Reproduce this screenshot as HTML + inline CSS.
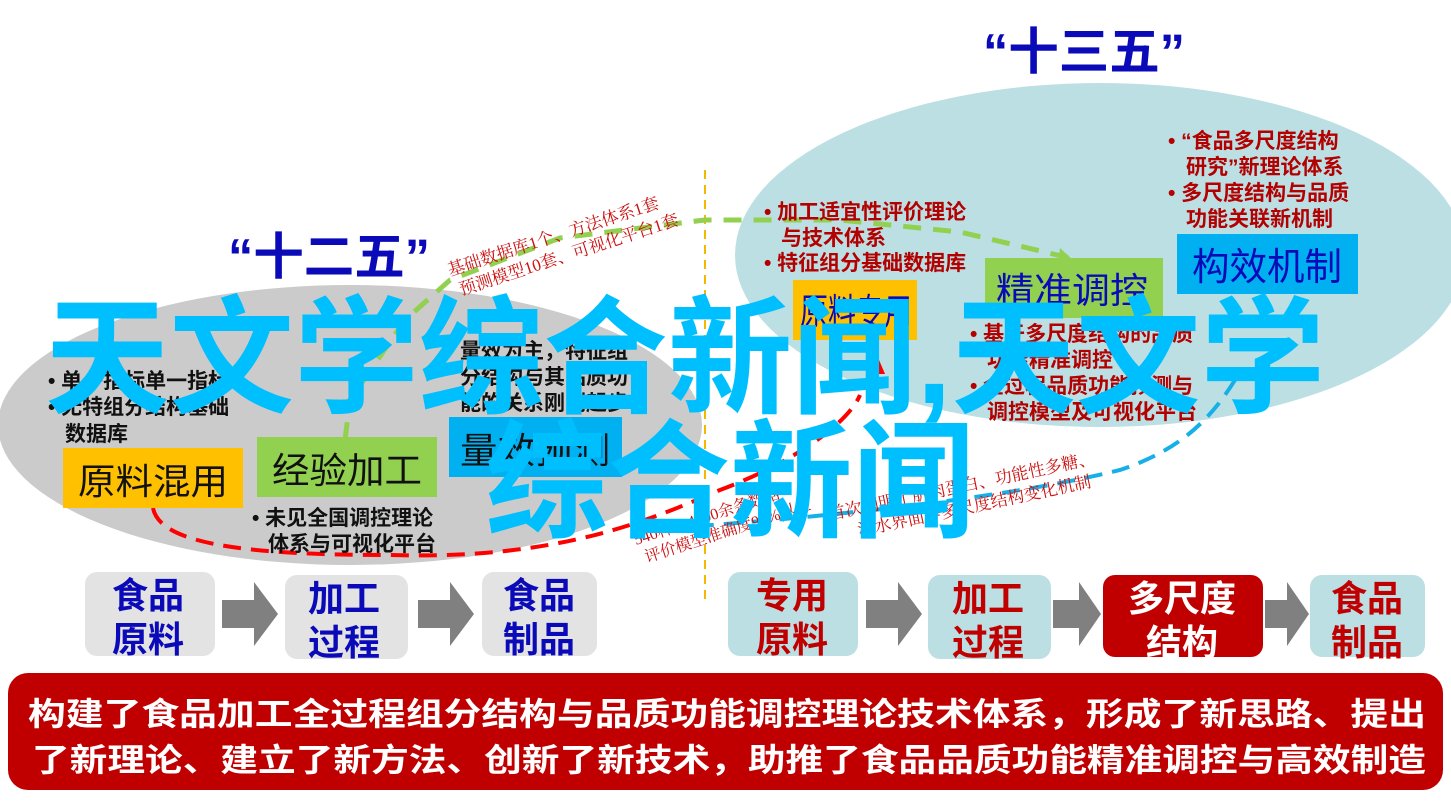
<!DOCTYPE html>
<html><head><meta charset="utf-8"><style>
html,body{margin:0;padding:0;background:#fff;width:1451px;height:801px;overflow:hidden}
svg{display:block}
text{font-family:"Liberation Sans","Noto Sans CJK SC",sans-serif}
.s{font-family:"Liberation Serif","Noto Serif CJK SC",serif}
</style></head><body>
<svg width="1451" height="801" viewBox="0 0 1451 801" xmlns="http://www.w3.org/2000/svg">
<ellipse cx="1100" cy="255" rx="365" ry="172" fill="#bcdfe3"/>
<ellipse cx="350" cy="425" rx="352" ry="140" fill="#cbcbcb"/>
<line x1="705" y1="170" x2="705" y2="600" stroke="#f5b800" stroke-width="2" stroke-dasharray="9,6"/>
<path d="M345,440 L350,400 L405,320 L450,280 L560,238 L705,220 L840,220 L960,232 L1070,258" fill="none" stroke="#92D050" stroke-width="5" stroke-dasharray="18,12"/>
<path d="M1060,248 L1075,262 L1058,266 z" fill="#92D050"/>
<path d="M153,508 C160,545 250,555 390,555 C560,560 650,520 720,490 C800,460 850,420 860,395" fill="none" stroke="#ff0000" stroke-width="4" stroke-dasharray="18,10"/>
<path d="M876,358 L870,372 L882,372 z M876,365 L874,385" fill="#ff0000" stroke="#ff0000" stroke-width="4"/>
<path d="M640,530 C800,520 1000,500 1120,470 C1180,450 1210,420 1235,380" fill="none" stroke="#16b0e8" stroke-width="4" stroke-dasharray="18,10"/>
<text x="228" y="274" font-size="50" font-weight="bold" fill="#0a0ab8" textLength="202" lengthAdjust="spacingAndGlyphs">“十二五”</text>
<text x="983" y="69" font-size="50" font-weight="bold" fill="#0a0ab8" textLength="202" lengthAdjust="spacingAndGlyphs">“十三五”</text>
<g transform="translate(450,276) rotate(-18)" fill="#cc1010" font-size="17">
<text class="s" x="0" y="0">基础数据库1个、方法体系1套</text>
<text class="s" x="5" y="22">预测模型10套、可视化平台1套</text>
</g>
<g transform="translate(636,545) rotate(-18)" fill="#cc1010" font-size="16">
<text class="s" x="0" y="0">540种、4000余条数据</text>
<text class="s" x="5" y="20">评价模型准确度90%以上</text>
</g>
<g transform="translate(830,520) rotate(-12)" fill="#cc1010" font-size="17">
<text class="s" x="0" y="0">首次阐明了肌肉蛋白、功能性多糖、</text>
<text class="s" x="25" y="22">油水界面等多尺度结构变化机制</text>
</g>
<g font-size="21" font-weight="bold" fill="#111">
<text x="48" y="388">• 单一指标单一指标</text>
<text x="48" y="414">• 无特组分结构基础</text>
<text x="65" y="441">数据库</text>
<text x="460" y="358">量效为主，特征组</text>
<text x="460" y="384">分结构与其品质功</text>
<text x="460" y="410">能的关系刚刚起步</text>
<text x="252" y="525">• 未见全国调控理论</text>
<text x="268" y="551">体系与可视化平台</text>
</g>
<rect x="63" y="448" width="180" height="60" fill="#FFC000"/>
<text x="78" y="494" font-size="36" fill="#111" textLength="150" lengthAdjust="spacingAndGlyphs">原料混用</text>
<rect x="257" y="437" width="180" height="60" fill="#92D050"/>
<text x="272" y="483" font-size="36" fill="#111" textLength="150" lengthAdjust="spacingAndGlyphs">经验加工</text>
<rect x="449" y="417" width="173" height="60" fill="#00B0F0"/>
<text x="460" y="463" font-size="36" fill="#111" textLength="150" lengthAdjust="spacingAndGlyphs">量效预测</text>
<g font-size="21" font-weight="bold" fill="#b30000">
<text x="764" y="219">• 加工适宜性评价理论</text>
<text x="781" y="245">与技术体系</text>
<text x="764" y="270">• 特征组分基础数据库</text>
<text x="1168" y="148">•  “食品多尺度结构</text>
<text x="1186" y="174">研究”新理论体系</text>
<text x="1168" y="200">• 多尺度结构与品质</text>
<text x="1186" y="226">功能关联新机制</text>
<text x="970" y="341">• 基于多尺度结构的品质</text>
<text x="987" y="367">功能精准调控</text>
<text x="970" y="393">• 全过程品质功能预测与</text>
<text x="987" y="419">调控模型及可视化平台</text>
</g>
<rect x="793" y="280" width="124" height="60" fill="#FFC000"/>
<text x="800" y="324" font-size="36" fill="#0a0ab8" textLength="112" lengthAdjust="spacingAndGlyphs">原料专用</text>
<rect x="985" y="258" width="178" height="60" fill="#92D050"/>
<text x="996" y="303" font-size="36" fill="#0a0ab8" textLength="152" lengthAdjust="spacingAndGlyphs">精准调控</text>
<rect x="1177" y="234" width="181" height="60" fill="#00B0F0"/>
<text x="1192" y="280" font-size="38" fill="#0a0ab8" textLength="150" lengthAdjust="spacingAndGlyphs">构效机制</text>
<g fill="#00BFFF" font-size="128" font-weight="bold">
<text x="45" y="403" textLength="1280" lengthAdjust="spacingAndGlyphs">天文学综合新闻,天文学</text>
<text x="485" y="527" textLength="490" lengthAdjust="spacingAndGlyphs">综合新闻</text>
</g>
<g font-size="36" font-weight="bold">
<rect x="85" y="572" width="130" height="84" rx="12" fill="#e3e3e3"/>
<text x="112" y="608" fill="#0a0ab8">食品</text><text x="112" y="652" fill="#0a0ab8">原料</text>
<rect x="285" y="575" width="123" height="84" rx="12" fill="#e3e3e3"/>
<text x="308" y="611" fill="#0a0ab8">加工</text><text x="308" y="655" fill="#0a0ab8">过程</text>
<rect x="482" y="572" width="115" height="84" rx="12" fill="#e3e3e3"/>
<text x="503" y="608" fill="#0a0ab8">食品</text><text x="503" y="652" fill="#0a0ab8">制品</text>
<rect x="728" y="572" width="130" height="84" rx="12" fill="#bcdfe3"/>
<text x="756" y="608" fill="#c00000">专用</text><text x="756" y="652" fill="#c00000">原料</text>
<rect x="928" y="575" width="123" height="84" rx="12" fill="#bcdfe3"/>
<text x="952" y="611" fill="#c00000">加工</text><text x="952" y="655" fill="#c00000">过程</text>
<rect x="1103" y="575" width="160" height="82" rx="12" fill="#c00000"/>
<text x="1128" y="611" fill="#fff">多尺度</text><text x="1146" y="655" fill="#fff">结构</text>
<rect x="1310" y="575" width="115" height="82" rx="12" fill="#bcdfe3"/>
<text x="1331" y="611" fill="#c00000">食品</text><text x="1331" y="655" fill="#c00000">制品</text>
</g>
<g fill="#808080">
<path d="M222,600 h32 v-18 l24,32 l-24,32 v-18 h-32 z"/>
<path d="M418,600 h32 v-18 l24,32 l-24,32 v-18 h-32 z"/>
<path d="M866,600 h32 v-18 l24,32 l-24,32 v-18 h-32 z"/>
<path d="M1053,600 h26 v-18 l22,32 l-22,32 v-18 h-26 z"/>
<path d="M1265,600 h22 v-18 l22,32 l-22,32 v-18 h-22 z"/>
</g>
<rect x="8" y="673" width="1435" height="117" rx="20" fill="#c00000"/>
<g font-size="32" font-weight="bold" fill="#fff">
<text x="28" y="725" textLength="1398" lengthAdjust="spacingAndGlyphs">构建了食品加工全过程组分结构与品质功能调控理论技术体系，形成了新思路、提出</text>
<text x="32" y="771" textLength="1394" lengthAdjust="spacingAndGlyphs">了新理论、建立了新方法、创新了新技术，助推了食品品质功能精准调控与高效制造</text>
</g>
</svg>
</body></html>
